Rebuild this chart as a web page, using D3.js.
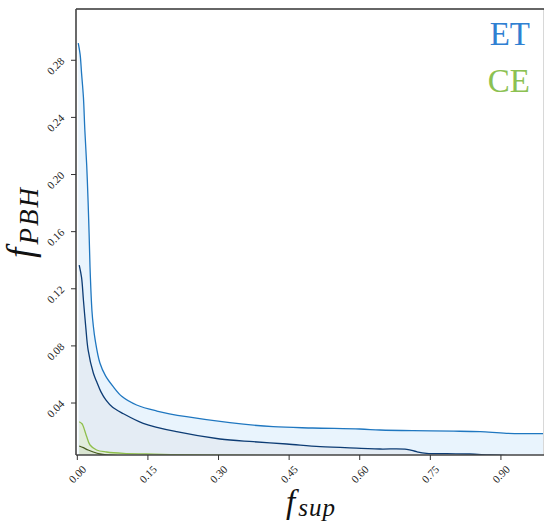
<!DOCTYPE html>
<html>
<head>
<meta charset="utf-8">
<script src="https://cdn.jsdelivr.net/npm/d3@7"></script>
<style>
  body { margin: 0; background: #fff; }
  svg text { font-family: "Liberation Serif", "DejaVu Serif", serif; }
</style>
</head>
<body>
<svg id="chart" width="545" height="523"></svg>
<script>
// ET upper / lower curves, CE upper / lower curves  (x = f_sup, y = f_PBH)
const etHiX = [0.002, 0.006, 0.009, 0.013, 0.016, 0.020, 0.023, 0.025, 0.027, 0.031, 0.034, 0.038, 0.048, 0.060, 0.075, 0.095, 0.126, 0.169, 0.232, 0.324, 0.416, 0.50, 0.60, 0.643, 0.713, 0.80, 0.856, 0.912, 0.995];
const etHiY = [0.292, 0.284, 0.271, 0.254, 0.231, 0.206, 0.180, 0.159, 0.135, 0.105, 0.094, 0.084, 0.068, 0.059, 0.052, 0.0445, 0.0386, 0.0344, 0.0304, 0.0262, 0.0234, 0.0225, 0.0218, 0.0211, 0.0206, 0.0203, 0.0199, 0.0188, 0.0185];

const etLoX = [0.004, 0.009, 0.013, 0.018, 0.023, 0.034, 0.041, 0.050, 0.061, 0.075, 0.098, 0.140, 0.211, 0.303, 0.374, 0.445, 0.516, 0.603, 0.643, 0.700, 0.721, 0.742, 0.785, 0.834, 0.877, 0.93, 0.995];
const etLoY = [0.1366, 0.128, 0.112, 0.093, 0.077, 0.061, 0.055, 0.048, 0.042, 0.037, 0.0325, 0.0258, 0.0199, 0.0148, 0.0129, 0.0113, 0.0094, 0.0083, 0.0078, 0.0076, 0.0059, 0.0048, 0.0045, 0.0043, 0.0036, 0.0030, 0.0028];

const ceHiX = [0.004, 0.010, 0.013, 0.020, 0.027, 0.041, 0.062, 0.098, 0.147, 0.20, 0.30, 0.50, 0.995];
const ceHiY = [0.0269, 0.0255, 0.0234, 0.0164, 0.0106, 0.0071, 0.0057, 0.0047, 0.0043, 0.0039, 0.0035, 0.0030, 0.0025];

const ceLoX = [0.004, 0.013, 0.023, 0.034, 0.048, 0.062, 0.10, 0.995];
const ceLoY = [0.0099, 0.0087, 0.0071, 0.0057, 0.0043, 0.0036, 0.0030, 0.0020];

const xTicks = [0, 0.15, 0.30, 0.45, 0.60, 0.75, 0.90];
const yTicks = [0.04, 0.08, 0.12, 0.16, 0.20, 0.24, 0.28];
const legendNames = ['ET', 'CE'];

const svg = d3.select('#chart');
const x = d3.scaleLinear().domain([-0.0028, 0.9915]).range([76, 544]);
const y = d3.scaleLinear().domain([0.0036, 0.3159]).range([455, 9]);

const [x0, x1] = x.range();
const [yb, yt] = y.range();

svg.append('clipPath').attr('id', 'clip')
    .append('rect').attr('x', x0).attr('y', yt).attr('width', x1 - x0).attr('height', yb - yt);

const plot = svg.append('g').attr('clip-path', 'url(#clip)');

function pts(xs, ys) {
    return xs.map((v, i) => [v, ys[i]]);
}
const crv = d3.curveCatmullRom.alpha(0.5);
const area = d3.area().x(d => x(d[0])).y0(yb).y1(d => y(d[1])).curve(crv);
const line = d3.line().x(d => x(d[0])).y(d => y(d[1])).curve(crv);

const series = [
    { d: pts(etHiX, etHiY), fill: '#e9f4fd', stroke: '#1f77c0' },
    { d: pts(etLoX, etLoY), fill: '#e4ecf4', stroke: '#0d3c74' },
    { d: pts(ceHiX, ceHiY), fill: '#e2eddc', stroke: '#8fbf4c' },
    { d: pts(ceLoX, ceLoY), fill: '#dae6d2', stroke: '#4a5e22' }
];
series.forEach(s => {
    plot.append('path').attr('d', area(s.d)).attr('fill', s.fill);
});
series.forEach(s => {
    plot.append('path').attr('d', line(s.d)).attr('fill', 'none')
        .attr('stroke', s.stroke).attr('stroke-width', 1.3);
});

// spines
svg.append('line').attr('x1', x1 - 0.5).attr('x2', x1 - 0.5).attr('y1', yt).attr('y2', yb)
    .attr('stroke', '#d8d8d8').attr('stroke-width', 1);
svg.append('line').attr('x1', x0).attr('x2', x1).attr('y1', yt).attr('y2', yt)
    .attr('stroke', '#333').attr('stroke-width', 1.4);
svg.append('line').attr('x1', x0).attr('x2', x0).attr('y1', yt).attr('y2', yb)
    .attr('stroke', '#444').attr('stroke-width', 1.6);
svg.append('line').attr('x1', x0).attr('x2', x1).attr('y1', yb).attr('y2', yb)
    .attr('stroke', '#444').attr('stroke-width', 1.6);

// ticks
const tk = svg.append('g');
xTicks.forEach(t => {
    tk.append('line').attr('x1', x(t)).attr('x2', x(t)).attr('y1', yb).attr('y2', yb + 5)
        .attr('stroke', '#333').attr('stroke-width', 1);
    tk.append('text').attr('transform', `translate(${x(t)},474) rotate(-45)`)
        .attr('text-anchor', 'middle').attr('dominant-baseline', 'central')
        .attr('font-size', 11).attr('fill', '#222').text(t.toFixed(2));
});
yTicks.forEach(t => {
    tk.append('line').attr('x1', x0 - 5).attr('x2', x0).attr('y1', y(t)).attr('y2', y(t))
        .attr('stroke', '#333').attr('stroke-width', 1);
    tk.append('text').attr('transform', `translate(55.5,${y(t) + 5.5}) rotate(-45)`)
        .attr('text-anchor', 'middle').attr('dominant-baseline', 'central')
        .attr('font-size', 11).attr('fill', '#222').text(t.toFixed(2));
});

// axis labels
const xl = svg.append('text').attr('x', 311).attr('y', 513).attr('text-anchor', 'middle')
    .attr('font-style', 'italic').attr('fill', '#111');
xl.append('tspan').attr('font-size', 33).text('f');
xl.append('tspan').attr('font-size', 25).attr('dx', 3).attr('dy', 3).attr('letter-spacing', 1).text('sup');

const yl = svg.append('text').attr('transform', 'translate(33,222) rotate(-90)')
    .attr('text-anchor', 'middle').attr('font-style', 'italic').attr('fill', '#111');
yl.append('tspan').attr('font-size', 37).text('f');
yl.append('tspan').attr('font-size', 27).attr('dx', 3).attr('dy', 5).attr('letter-spacing', 2).text('PBH');

// legend
const legendColors = ['#2f80d2', '#8cc152'];
legendNames.forEach((n, i) => {
    svg.append('text').attr('x', 530).attr('y', 45 + i * 47).attr('text-anchor', 'end')
        .attr('font-size', 33).attr('fill', legendColors[i]).text(n);
});
</script>
</body>
</html>
